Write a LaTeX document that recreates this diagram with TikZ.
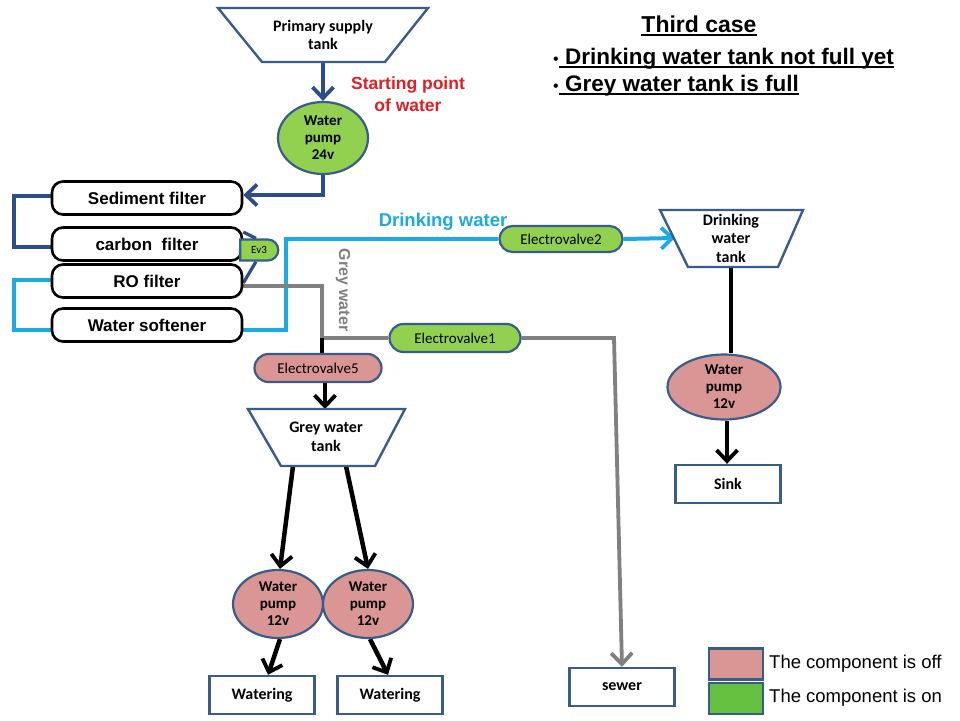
\documentclass[tikz,border=0pt]{standalone}
\usepackage{fontspec}
\setmainfont{Liberation Sans}
\newfontfamily\calfont{Carlito}
\usetikzlibrary{arrows.meta,shapes.misc,shapes.geometric,backgrounds}
\definecolor{darkpipe}{RGB}{44,78,135}
\definecolor{lightpipe}{RGB}{27,170,225}
\definecolor{greypipe}{RGB}{128,128,128}
\definecolor{ongreen}{RGB}{146,208,80}
\definecolor{legreen}{RGB}{100,192,62}
\definecolor{offpink}{RGB}{217,150,148}
\definecolor{bordc}{RGB}{56,93,138}
\definecolor{redtext}{RGB}{225,30,35}
\newcommand\myul[1]{\setbox0\hbox{#1}\rlap{\rule[-3.2pt]{\wd0}{1.8pt}}\box0}
\tikzset{
  tip/.style={-{Straight Barb[length=11pt,width=21pt,line width=3.8pt]}},
  darkline/.style={draw=darkpipe,line width=4.3pt},
  lightline/.style={draw=lightpipe,line width=4pt},
  greyline/.style={draw=greypipe,line width=3.8pt},
  blackline/.style={draw=black,line width=4.5pt},
  filterbox/.style={draw=black,line width=2.6pt,rounded corners=11pt,fill=white,
    minimum width=190pt,minimum height=33pt,inner sep=0pt,
    font=\bfseries\fontsize{17}{20}\selectfont},
  valve/.style={rounded rectangle,draw=bordc,line width=2.2pt,inner sep=0pt,
    font=\calfont\fontsize{15}{17}\selectfont},
  pump/.style={ellipse,draw=bordc,line width=2.2pt,inner sep=0pt,align=center,
    font=\calfont\bfseries\fontsize{15}{17}\selectfont},
  outbox/.style={draw=bordc,line width=2.4pt,fill=white,minimum width=105pt,
    minimum height=38pt,inner sep=0pt,font=\calfont\bfseries\fontsize{16}{18}\selectfont},
  tankshape/.style={draw=bordc,line width=2.4pt,fill=white},
  tanktext/.style={align=center,inner sep=0pt,font=\calfont\bfseries\fontsize{16}{18.5}\selectfont},
  legbox/.style={draw=bordc,line width=2.7pt,minimum width=54pt,minimum height=31pt,inner sep=0pt},
  legtext/.style={anchor=west,inner sep=0pt,font=\fontsize{18.5}{20}\selectfont},
}
\begin{document}
\begin{tikzpicture}[x=1pt,y=-1pt]
\useasboundingbox (0,0) rectangle (960,720);

% tanks
\draw[tankshape] (218,8) -- (428,8) -- (385,62) -- (262,62) -- cycle;
\node[tanktext] (pst) at (323,35) {Primary supply\\tank};
\coordinate (pstb) at (323,62);

\draw[tankshape] (660,210) -- (803,210) -- (778,267) -- (688,267) -- cycle;
\node[tanktext] (dwt) at (731,238) {Drinking\\water\\tank};
\coordinate (dwtl) at (675,238);
\coordinate (dwtb) at (731,267);

\draw[tankshape] (248,409) -- (405,409) -- (375,466) -- (281,466) -- cycle;
\node[tanktext] (gwt) at (326,437) {Grey water\\tank};
\coordinate (gwtt) at (325,409);
\coordinate (gwtbl) at (293,466);
\coordinate (gwtbr) at (346,466);

% pumps
\node[pump,fill=ongreen,minimum width=90pt,minimum height=72pt] (p24) at (323,138) {Water\\pump\\24v};
\node[pump,fill=offpink,minimum width=113pt,minimum height=65pt] (pd) at (724,387) {Water\\pump\\12v};
\node[pump,fill=offpink,minimum width=90pt,minimum height=68pt] (pl) at (278,604) {Water\\pump\\12v};
\node[pump,fill=offpink,minimum width=90pt,minimum height=68pt] (pr) at (368,604) {Water\\pump\\12v};

% filters
\node[filterbox] (sed) at (147,198) {Sediment filter};
\node[filterbox] (carb) at (147,244) {carbon\ \ filter};
\node[filterbox] (ro) at (147,281) {RO filter};
\node[filterbox] (soft) at (147,325) {Water softener};

% valves
\node[valve,fill=ongreen,minimum width=38pt,minimum height=21pt,rounded rectangle west arc=none,
  font=\calfont\fontsize{11}{12}\selectfont] (ev3) at (259,250) {Ev3};
\node[valve,fill=ongreen,minimum width=123pt,minimum height=26pt] (ev2) at (561,239) {Electrovalve2};
\node[valve,fill=ongreen,minimum width=131pt,minimum height=28pt] (ev1) at (455,338) {Electrovalve1};
\node[valve,fill=offpink,minimum width=127pt,minimum height=28pt] (ev5) at (318,368) {Electrovalve5};

% outlets
\node[outbox] (sink) at (728,484) {Sink};
\node[outbox] (wl) at (262,695) {Watering};
\node[outbox] (wr) at (390,695) {Watering};
\node[outbox] (sewer) at (622,687) {sewer};

\coordinate (gj) at (322,338);
\coordinate (gc) at (614,338);

% labels
\node[text=redtext,align=center,inner sep=0pt,font=\bfseries\fontsize{17.5}{22}\selectfont] (start) at (408,94) {Starting point\\of water};
\node[text=lightpipe,inner sep=0pt,font=\bfseries\fontsize{18.5}{20}\selectfont] (dwlab) at (443,222) {Drinking water};
\node[text=greypipe,rotate=-90,inner sep=0pt,font=\bfseries\fontsize{16}{18}\selectfont] (gwlab) at (343,290) {Grey water};

\node[inner sep=0pt,font=\bfseries\fontsize{23}{26}\selectfont] (title) at (699,26) {\myul{Third case}};
\node[anchor=west,inner sep=0pt,font=\bfseries\fontsize{22.5}{24}\selectfont] (b1) at (553,59) {{\mdseries\fontsize{16}{18}\selectfont\textbullet}\myul{ Drinking water tank not full yet}};
\node[anchor=west,inner sep=0pt,font=\bfseries\fontsize{22.5}{24}\selectfont] (b2) at (553,86) {{\mdseries\fontsize{16}{18}\selectfont\textbullet}\myul{ Grey water tank is full}};

% legend
\node[legbox,fill=offpink] (legoff) at (736,664) {};
\node[legbox,fill=legreen] (legon) at (736,698.5) {};
\node[legtext] (legofft) at (769,664) {The component is off};
\node[legtext] (legont) at (769,698) {The component is on};

\begin{pgfonlayer}{background}
\fill[white] (0,0) rectangle (960,720);
% dark blue
\draw[darkline,tip] (pstb) -- (p24.north);
\draw[darkline,tip] (p24.south) |- ([yshift=3pt]sed.east);
\draw[darkline] ([yshift=2pt]sed.west) -- ++(-37,0) |- ([yshift=-3pt]carb.west);
\draw[darkpipe,line width=3.2pt] ([yshift=12pt]carb.east) -- ([xshift=-3pt]ev3.north);
\draw[darkpipe,line width=3.2pt] ([yshift=-2pt]ro.east) -- ([xshift=-3pt]ev3.south);
% light blue
\draw[lightline] ([yshift=1pt]ro.west) -- ++(-37,0) |- ([yshift=-5pt]soft.west);
\draw[lightline] ([yshift=-5pt]soft.east) -- ++(43,0) |- (ev2.west);
\draw[lightline,tip] (ev2.east) -- (dwtl);
% grey
\draw[greyline] ([yshift=-5pt]ro.east) -| (gj) -- (ev1.west);
\draw[greyline,tip] (ev1.east) -- (gc) -- (sewer.north);
% black
\draw[blackline] (gj) -- (gj |- ev5.north);
\draw[blackline,tip] ([xshift=7pt]ev5.south) -- (gwtt);
\draw[blackline,tip] (gwtbl) -- ([xshift=2pt]pl.north);
\draw[blackline,tip] (gwtbr) -- (pr.north);
\draw[blackline,tip] ([xshift=2pt]pl.south) -- ([xshift=6pt]wl.north);
\draw[blackline,tip] ([xshift=2pt]pr.south) -- ([xshift=-2pt]wr.north);
\draw[blackline] (dwtb) -- (dwtb |- pd.north);
\draw[blackline,tip] ([xshift=3pt]pd.south) -- ([xshift=-1pt]sink.north);
\end{pgfonlayer}
\end{tikzpicture}
\end{document}
